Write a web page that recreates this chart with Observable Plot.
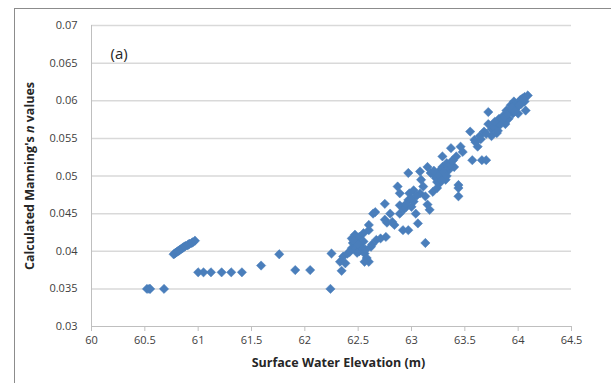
<!DOCTYPE html>
<html>
<head>
<meta charset="utf-8">
<script src="https://cdn.jsdelivr.net/npm/d3@7"></script>
<script src="https://cdn.jsdelivr.net/npm/@observablehq/plot@0.6"></script>
<style>
  html, body { margin: 0; padding: 0; background: #fff; }
  #wrap { position: relative; width: 611px; height: 383px; overflow: hidden; }
  #frame { position: absolute; left: 14px; top: 8px; width: 700px; height: 500px; border-left: 1px solid #8c8c8c; border-top: 1px solid #8c8c8c; }
  #chart { position: absolute; left: 0; top: 0; }
</style>
</head>
<body>
<div id="wrap"><div id="frame"></div><div id="chart"></div></div>
<script>
// Surface water elevation (m)
const elevation = [
  60.52, 60.54, 60.55, 60.68,
  60.77, 60.78, 60.79, 60.80, 60.81, 60.82, 60.83, 60.84, 60.85, 60.86, 60.87, 60.88, 60.90, 60.91, 60.92, 60.94, 60.95, 60.97,
  61.00, 61.05, 61.12, 61.22, 61.31, 61.41,
  61.59, 61.76, 61.91, 62.05, 62.24, 62.25,
  62.345, 62.33, 62.38, 62.36, 62.40, 62.44, 62.45, 62.44, 62.47, 62.51, 62.49, 62.53, 62.55, 62.51, 62.56, 62.58, 62.60, 62.56,
  62.55, 62.60, 62.60, 62.64, 62.66, 62.62, 62.67, 62.71, 62.76, 62.75, 62.77, 62.75, 62.80, 62.82, 62.84,
  62.89, 62.89, 62.89, 62.87, 62.92, 62.97, 62.95, 62.97, 62.98, 62.97, 63.00, 63.02, 63.02, 63.04, 63.06,
  63.08, 63.08, 63.09, 63.11, 63.13, 63.13, 63.15, 63.15, 63.17, 63.18, 63.20, 63.24, 63.24, 63.28, 63.29,
  63.31, 63.29, 63.33, 63.35, 63.37, 63.39, 63.40, 63.42, 63.44, 63.44, 63.44, 63.46, 63.26, 63.30, 63.27, 63.32,
  63.55, 63.57, 63.59, 63.62, 63.64, 63.66, 63.70, 63.68, 63.72, 63.72, 63.75, 63.75, 63.79, 63.80, 63.82,
  63.84, 63.86, 63.88, 63.89, 63.91, 63.93, 63.95, 63.96, 63.98, 64.00, 64.02, 64.04, 64.06, 64.09, 64.07, 64.00, 64.06,
  62.48, 62.52, 62.46, 63.22, 63.34, 63.26, 63.60, 63.77, 63.85, 63.92, 63.99, 64.03,
  62.47, 62.50, 62.54, 62.42, 62.49, 62.57, 62.63, 62.93, 63.00, 63.05, 62.95, 63.23, 63.25, 63.28, 63.30, 63.33,
  63.21, 63.36, 63.38, 63.48, 63.65, 63.70, 63.83, 63.87, 63.90, 63.94, 63.97, 64.01, 64.05, 63.78, 63.81
];
// Calculated Manning's n
const manningN = [
  0.0350, 0.0350, 0.0350, 0.0350,
  0.0396, 0.0397, 0.0398, 0.0399, 0.0400, 0.0401, 0.0402, 0.0403, 0.0404, 0.0405, 0.0406, 0.0407, 0.0408, 0.0409, 0.0410, 0.0411, 0.0412, 0.0414,
  0.0372, 0.0372, 0.0372, 0.0372, 0.0372, 0.0372,
  0.0381, 0.0396, 0.0375, 0.0375, 0.0350, 0.0397,
  0.0374, 0.0386, 0.0384, 0.0393, 0.0397, 0.0404, 0.0411, 0.0417, 0.0422, 0.0419, 0.0411, 0.0406, 0.0413, 0.0400, 0.0397, 0.0391, 0.0386, 0.0386,
  0.0424, 0.0428, 0.0435, 0.0450, 0.0452, 0.0406, 0.0415, 0.0417, 0.0419, 0.0442, 0.0438, 0.0463, 0.0450, 0.0439, 0.0435,
  0.0450, 0.0461, 0.0477, 0.0486, 0.0428, 0.0428, 0.0459, 0.0468, 0.0477, 0.0504, 0.0459, 0.0466, 0.0481, 0.0450, 0.0437,
  0.0477, 0.0506, 0.0495, 0.0486, 0.0473, 0.0411, 0.0512, 0.0462, 0.0455, 0.0504, 0.0479, 0.0492, 0.0484, 0.0504, 0.0512,
  0.0499, 0.0526, 0.0517, 0.0508, 0.0537, 0.0521, 0.0512, 0.0526, 0.0488, 0.0484, 0.0473, 0.0539, 0.0497, 0.0502, 0.0508, 0.0495,
  0.0559, 0.0521, 0.0548, 0.0539, 0.0553, 0.0521, 0.0521, 0.0559, 0.0585, 0.0569, 0.0562, 0.0553, 0.0567, 0.0557, 0.0576,
  0.0571, 0.0580, 0.0569, 0.0587, 0.0576, 0.0594, 0.0583, 0.0599, 0.0590, 0.0597, 0.0601, 0.0603, 0.0605, 0.0607, 0.0587, 0.0583, 0.0599,
  0.0408, 0.0402, 0.0414, 0.0500, 0.0513, 0.0490, 0.0545, 0.0565, 0.0575, 0.0588, 0.0593, 0.0596,
  0.0403, 0.0409, 0.0403, 0.0399, 0.0398, 0.0402, 0.0409, 0.0456, 0.0470, 0.0474, 0.0463, 0.0497, 0.0502, 0.0494, 0.0505, 0.0500,
  0.0507, 0.0515, 0.0520, 0.0532, 0.0549, 0.0556, 0.0568, 0.0578, 0.0582, 0.0591, 0.0586, 0.0594, 0.0602, 0.0572, 0.0560
];
const xTicks = [60, 60.5, 61, 61.5, 62, 62.5, 63, 63.5, 64, 64.5];
const yTicks = [0.03, 0.035, 0.04, 0.045, 0.05, 0.055, 0.06, 0.065, 0.07];
const panelLabel = "(a)";
const xLabel = "Surface Water Elevation (m)";

const points = elevation.map((x, i) => ({x, y: manningN[i]}));
const font = "'Open Sans', 'Liberation Sans', sans-serif";

const chart = Plot.plot({
  width: 611,
  height: 383,
  marginLeft: 91,
  marginRight: 40,
  marginTop: 25,
  marginBottom: 57,
  style: {fontFamily: font, fontSize: "11px", color: "#404040", background: "transparent"},
  x: {domain: [60, 64.5], ticks: xTicks, tickFormat: d => String(d), label: null},
  y: {domain: [0.03, 0.07], ticks: yTicks, tickFormat: d => String(+d.toFixed(3)), label: null},
  marks: [
    Plot.ruleY(yTicks.filter(d => d > 0.03), {stroke: "#d9d9d9", strokeWidth: 1.5}),
    Plot.ruleX([60], {stroke: "#bfbfbf", strokeWidth: 1}),
    Plot.ruleY([0.03], {stroke: "#bfbfbf", strokeWidth: 1}),
    Plot.axisY({ticks: yTicks, tickSize: 0, tickPadding: 14, tickFormat: d => String(+d.toFixed(3)), label: null, fill: "#404040"}),
    Plot.axisX({ticks: xTicks, tickSize: 5, tickPadding: 5, stroke: "#bfbfbf", tickFormat: d => String(d), label: null, fill: "#404040"}),
    Plot.dot(points, {x: "x", y: "y", symbol: "diamond2", r: 4.2, fill: "#4a7ebb", stroke: "#4a7ebb", strokeWidth: 0.5}),
    Plot.text([panelLabel], {text: d => d, frameAnchor: "top-left", dx: 19, dy: 23, textAnchor: "start", fontSize: 15, fill: "#262626"}),
    Plot.text([xLabel], {text: d => d, frameAnchor: "bottom", dx: 7, dy: 40, fontSize: 12.5, fontWeight: "bold", fill: "#262626"})
  ]
});
document.getElementById("chart").appendChild(chart);

// y-axis title with italic n
const svg = d3.select(chart);
const t = svg.append("text")
  .attr("transform", "translate(34,176) rotate(-90)")
  .attr("text-anchor", "middle")
  .attr("font-family", font)
  .attr("font-size", 12.5)
  .attr("font-weight", "bold")
  .attr("fill", "#262626");
t.append("tspan").text("Calculated Manning's ");
t.append("tspan").attr("font-style", "italic").text("n");
t.append("tspan").text(" values");
</script>
</body>
</html>
